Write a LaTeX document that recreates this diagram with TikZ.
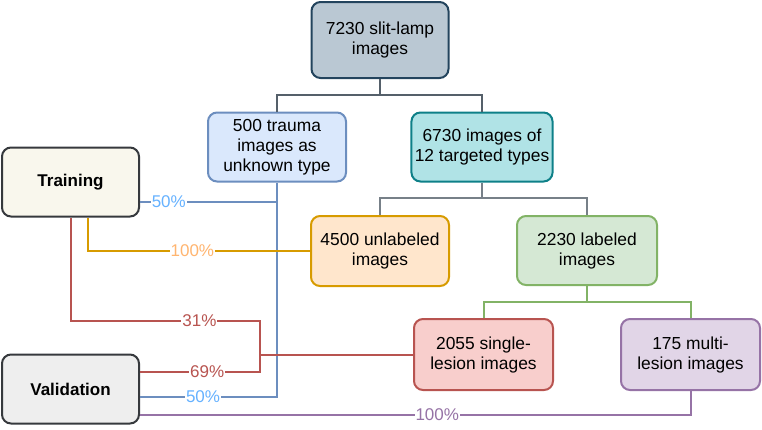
\documentclass[tikz,border=0pt]{standalone}
\usepackage{fontspec}
\setmainfont{Liberation Sans}
\definecolor{SlateFill}   {HTML}{BAC8D3}
\definecolor{SlateDraw}   {HTML}{23445D}
\definecolor{BlueFill}    {HTML}{DAE8FC}
\definecolor{BlueDraw}    {HTML}{6C8EBF}
\definecolor{BlueText}    {HTML}{66B2FF}
\definecolor{TealFill}    {HTML}{B0E3E6}
\definecolor{TealDraw}    {HTML}{0E8088}
\definecolor{CreamFill}   {HTML}{F9F7ED}
\definecolor{DarkDraw}    {HTML}{36393D}
\definecolor{GreyFill}    {HTML}{EEEEEE}
\definecolor{OrangeFill}  {HTML}{FFE6CC}
\definecolor{OrangeDraw}  {HTML}{D79B00}
\definecolor{OrangeText}  {HTML}{FFB570}
\definecolor{GreenFill}   {HTML}{D5E8D4}
\definecolor{GreenDraw}   {HTML}{82B366}
\definecolor{RedFill}     {HTML}{F8CECC}
\definecolor{RedDraw}     {HTML}{B85450}
\definecolor{PurpleFill}  {HTML}{E1D5E7}
\definecolor{PurpleDraw}  {HTML}{9673A6}
\definecolor{TreeLine}    {HTML}{55606A}
\usetikzlibrary{positioning,calc}

\begin{document}
\begin{tikzpicture}[x=1pt,y=-1pt,
  box/.style={draw,rounded corners=9pt,line width=2pt,
              minimum width=137pt,minimum height=69pt,
              align=center,font=\fontsize{17.4}{20}\selectfont},
  link/.style={line width=2pt},
  pct/.style={fill=white,inner sep=1pt,font=\fontsize{17}{20}\selectfont}]
  \useasboundingbox (0,0) rectangle (762,429);
  \node[box,fill=SlateFill,draw=SlateDraw,minimum height=76pt] (all)
        at (380,40) {7230 slit-lamp\\images};
  \node[box,fill=BlueFill,draw=BlueDraw,minimum width=138pt] (trauma)
        at (277,147) {500 trauma\\images as\\unknown type};
  \node[box,fill=TealFill,draw=TealDraw] (types)
        at (482,147) {6730 images of\\12 targeted types};
  \node[box,fill=CreamFill,draw=DarkDraw,font=\fontsize{17}{20}\selectfont\bfseries]
        (train) at (70.5,182) {Training};
  \node[box,fill=GreyFill,draw=DarkDraw,font=\fontsize{17}{20}\selectfont\bfseries]
        (valid) at (70.5,389) {Validation};
  \node[box,fill=OrangeFill,draw=OrangeDraw,minimum width=138pt,minimum height=70pt]
        (unlab) at (380,251) {4500 unlabeled\\images};
  \node[box,fill=GreenFill,draw=GreenDraw,minimum width=140pt] (lab)
        at (587,250.5) {2230 labeled\\images};
  \node[box,fill=RedFill,draw=RedDraw,minimum width=139pt,minimum height=71pt]
        (single) at (483.5,354.5) {2055 single-\\lesion images};
  \node[box,fill=PurpleFill,draw=PurpleDraw,minimum width=139pt,minimum height=71pt]
        (multi) at (690.5,354.5) {175 multi-\\lesion images};

  \coordinate (split1) at (380,95);
  \coordinate (split2) at (482,198);
  \coordinate (split3) at (587,302);
  \draw[link,TreeLine] (all.south) -- (split1) -| (trauma.north);
  \draw[link,TreeLine] (split1) -| (types.north);
  \draw[link,TreeLine!80] (types.south) -- (split2) -| (unlab.north);
  \draw[link,TreeLine!80] (split2) -| (lab.north);
  \draw[link,GreenDraw] (lab.south) -- (split3) -| (single.north);
  \draw[link,GreenDraw] (split3) -| (multi.north);

  \coordinate (tr50) at (277,202);
  \coordinate (r31) at (260,321);
  \coordinate (r69) at (260,372);
  \draw[link,BlueDraw] (trauma.south) |- ([yshift=-8pt]valid.east)
        node[pct,text=BlueText,pos=0.77] {50\%};
  \draw[link,BlueDraw] (tr50) -- (train.east |- tr50)
        node[pct,text=BlueText,pos=0.79] {50\%};
  \draw[link,OrangeDraw] ([xshift=17.5pt]train.south) |- (unlab.west)
        node[pct,text=OrangeText,pos=0.735] {100\%};
  \draw[link,RedDraw] (train.south) |- (r31)
        node[pct,pos=0.84] {31\%} -- (r69) -- (valid.east |- r69)
        node[pct,pos=0.44] {69\%};
  \draw[link,RedDraw] (single.west) -- (single.west -| r31);
  \draw[link,PurpleDraw] (multi.south) |- ([yshift=-26pt]valid.east)
        node[pct,text=PurpleDraw,pos=0.73] {100\%};
\end{tikzpicture}
\end{document}
